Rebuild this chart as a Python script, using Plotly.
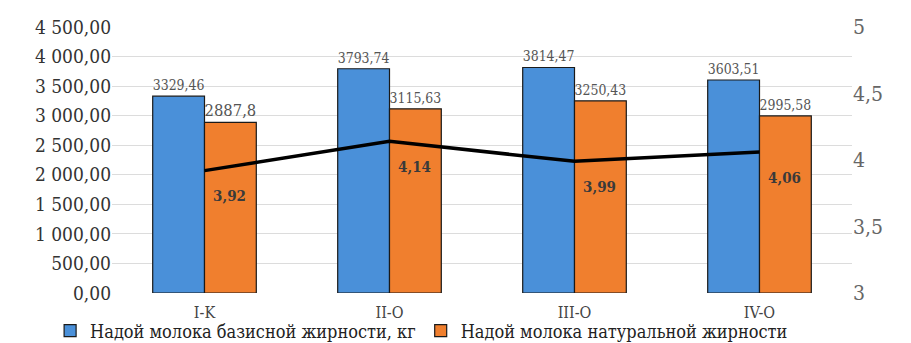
import plotly.graph_objects as go

categories = ["I-K", "II-O", "III-O", "IV-O"]
base_yield = [3329.46, 3793.74, 3814.47, 3603.51]
natural_yield = [2887.8, 3115.63, 3250.43, 2995.58]
fat_pct = [3.92, 4.14, 3.99, 4.06]

left_ticks = [0, 500, 1000, 1500, 2000, 2500, 3000, 3500, 4000, 4500]
left_ticktext = ["0,00", "500,00", "1 000,00", "1 500,00", "2 000,00", "2 500,00",
                 "3 000,00", "3 500,00", "4 000,00", "4 500,00"]
right_ticks = [3, 3.5, 4, 4.5, 5]
right_ticktext = ["3", "3,5", "4", "4,5", "5"]

name_base = "Надой молока базисной жирности, кг"
name_nat = "Надой молока натуральной жирности"

def fmt(v):
    s = ("%.2f" % v).rstrip("0").rstrip(".")
    return s.replace(".", ",")

FONT = "DejaVu Serif Condensed, DejaVu Serif, serif"
fig = go.Figure()
fig.add_trace(go.Bar(
    x=categories, y=base_yield, name=name_base,
    marker=dict(color="#4a90d9", line=dict(color="#1a1a1a", width=1.2)),
    text=[fmt(v) for v in base_yield], textposition="outside",
    textfont=dict(family=FONT, size=18, color="#555555"), cliponaxis=False,
))
fig.add_trace(go.Bar(
    x=categories, y=natural_yield, name=name_nat,
    marker=dict(color="#f07f2e", line=dict(color="#1a1a1a", width=1.2)),
    text=[fmt(v) for v in natural_yield], textposition="outside",
    textfont=dict(family=FONT, size=18, color="#555555"), cliponaxis=False,
))
fig.add_trace(go.Scatter(
    x=categories, y=fat_pct, yaxis="y2", mode="lines+text",
    line=dict(color="black", width=3.5), showlegend=False,
    text=[fmt(v) for v in fat_pct], textposition="bottom right",
    texttemplate="<br>\u00a0\u00a0<b>%{text}</b>",
    textfont=dict(family=FONT, size=15, color="#3a3a3a"),
))

fig.update_layout(
    width=911, height=343,
    margin=dict(l=112, r=59, t=27, b=50, autoexpand=False),
    paper_bgcolor="white", plot_bgcolor="white",
    barmode="group", bargap=0.44, bargroupgap=0,
    font=dict(family=FONT, color="#444444"),
    xaxis=dict(tickfont=dict(family=FONT, size=16, color="#444444"), showline=False,
               ticks="", ticklabelstandoff=8),
    yaxis=dict(range=[0, 4500], tickvals=left_ticks, ticktext=left_ticktext,
               tickfont=dict(family=FONT, size=19, color="#333333"), gridcolor="#dcdcdc",
               zeroline=False, showline=False),
    yaxis2=dict(range=[3, 5], tickvals=right_ticks, ticktext=right_ticktext,
                overlaying="y", side="right", showgrid=False, zeroline=False,
                tickfont=dict(family=FONT, size=21, color="#666666")),
    legend=dict(orientation="h", x=0.055, xref="container", xanchor="left",
                y=0.035, yref="container", yanchor="middle",
                font=dict(family=FONT, size=18, color="#222222"), itemwidth=30,
                traceorder="normal", bgcolor="rgba(0,0,0,0)"),
)

fig.write_html("out.html")
